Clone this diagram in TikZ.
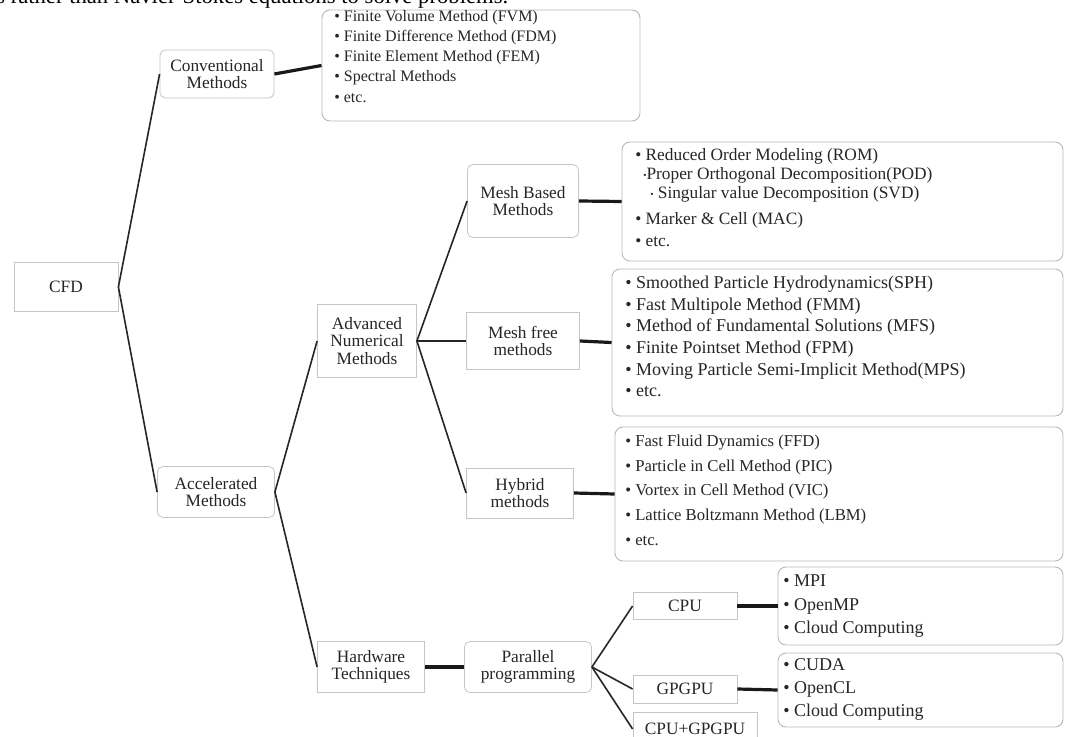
\documentclass[tikz,border=0pt]{standalone}
\usepackage{fontspec}
\setmainfont{Liberation Serif}
\usetikzlibrary{positioning,fit}
\newcommand{\pxu}{0.75pt}
\newcommand{\smallbul}{\raisebox{0.15ex}{\scriptsize\textbullet}}
\newcommand{\fsz}[1]{\fontsize{#1}{#1}\selectfont}

\tikzset{
  box/.style={draw=gray!45, line width=0.6pt, fill=white, align=center, inner sep=0pt,
    font=\fsz{13}, text=black!85},
  rbox/.style={box, rounded corners=4pt},
  listbox/.style={draw=gray!55, line width=0.7pt, rounded corners=6pt, inner sep=0pt},
  item/.style={anchor=west, inner sep=0pt, font=\fsz{13}, text=black!85,
    text height=1.6ex, text depth=0.45ex},
  link/.style={draw=black!85, line width=1.2pt},
  boldlink/.style={draw=black!90, line width=2.4pt},
}

\begin{document}
\begin{tikzpicture}[x=0.75pt,y=-0.75pt]
  \useasboundingbox (0,0) rectangle (1067,737);
  \fill[white] (0,0) rectangle (1067,737);
  \clip (0,0) rectangle (1067,737);

  % cut-off line of the page text
  \node[anchor=base west, inner sep=0pt, font=\fsz{17}] (pagetext) at (-4,4)
    {s rather than Navier-Stokes equations to solve problems.};

  % first level
  \node[box, minimum width=104*\pxu, minimum height=49*\pxu] (cfd) at (66,287) {CFD};
  \node[rbox, minimum width=114*\pxu, minimum height=48*\pxu] (conv) at (217,74) {Conventional\\Methods};
  \node[rbox, minimum width=117*\pxu, minimum height=51*\pxu] (accel) at (216,492) {Accelerated\\Methods};

  % second level
  \node[box, minimum width=99*\pxu, minimum height=73*\pxu] (adv) at (367,341) {Advanced\\Numerical\\Methods};
  \node[box, minimum width=107*\pxu, minimum height=51*\pxu] (hw) at (371,667) {Hardware\\Techniques};

  % third level
  \node[rbox, minimum width=111*\pxu, minimum height=73*\pxu] (mesh) at (523,201) {Mesh Based\\Methods};
  \node[box, minimum width=113*\pxu, minimum height=57*\pxu] (free) at (523,341) {Mesh free\\methods};
  \node[box, minimum width=107*\pxu, minimum height=50*\pxu] (hybrid) at (520,493) {Hybrid\\methods};
  \node[rbox, minimum width=127*\pxu, minimum height=51*\pxu] (par) at (528,667) {Parallel\\programming};
  \node[box, minimum width=104*\pxu, minimum height=27*\pxu] (cpu) at (685,606) {CPU};
  \node[box, minimum width=104*\pxu, minimum height=28*\pxu] (gpgpu) at (685,689) {GPGPU};
  \node[box, minimum width=124*\pxu, minimum height=34*\pxu] (both) at (695,729) {CPU+GPGPU};

  % list boxes
  \node[listbox, fit={(322,10) (640,121)}] (convlist) {};
  \node[listbox, fit={(622,142) (1063,261)}] (meshlist) {};
  \node[listbox, fit={(612,269) (1063,416)}] (freelist) {};
  \node[listbox, fit={(615,427) (1063,561)}] (hyblist) {};
  \node[listbox, fit={(778,567) (1063,645)}] (cpulist) {};
  \node[listbox, fit={(778,653) (1063,727)}] (gpulist) {};

  % list entries
  \foreach \y/\t [count=\i] in {18/{Finite Volume Method (FVM)}, 38/{Finite Difference Method (FDM)},
      58/{Finite Element Method (FEM)}, 78/{Spectral Methods}, 99/{etc.}}
    \node[item, font=\fsz{12}] (conv\i) at (334,\y) {\textbullet\ \t};
  \foreach \x/\y/\t [count=\i] in {635/157/{\textbullet\ Reduced Order Modeling (ROM)},
      643/176/{\smallbul Proper Orthogonal Decomposition(POD)},
      650/195/{\smallbul\ Singular value Decomposition (SVD)},
      635/221/{\textbullet\ Marker \& Cell (MAC)}, 635/243/{\textbullet\ etc.}}
    \node[item] (mesh\i) at (\x,\y) {\t};
  \foreach \y/\t [count=\i] in {285/{Smoothed Particle Hydrodynamics(SPH)}, 307/{Fast Multipole Method (FMM)},
      328/{Method of Fundamental Solutions (MFS)}, 350/{Finite Pointset Method (FPM)},
      372/{Moving Particle Semi-Implicit Method(MPS)}, 393/{etc.}}
    \node[item, font=\fsz{13.5}] (free\i) at (625,\y) {\textbullet\ \t};
  \foreach \y/\t [count=\i] in {443/{Fast Fluid Dynamics (FFD)}, 468/{Particle in Cell Method (PIC)},
      492/{Vortex in Cell Method (VIC)}, 517/{Lattice Boltzmann Method (LBM)}, 542/{etc.}}
    \node[item, font=\fsz{12.5}] (hyb\i) at (625,\y) {\textbullet\ \t};
  \foreach \y/\t [count=\i] in {583/MPI, 607/OpenMP, 630/{Cloud Computing}}
    \node[item, font=\fsz{13.5}] (cpu\i) at (783,\y) {\textbullet\ \t};
  \foreach \y/\t [count=\i] in {667/CUDA, 690/OpenCL, 713/{Cloud Computing}}
    \node[item, font=\fsz{13.5}] (gpu\i) at (783,\y) {\textbullet\ \t};

  % connectors
  \draw[link] (cfd.east) -- (conv.west);
  \draw[link] (cfd.east) -- (accel.west);
  \draw[link] (accel.east) -- (adv.west);
  \draw[link] (accel.east) -- (hw.west);
  \draw[link] (adv.east) -- (mesh.west);
  \draw[link] (adv.east) -- (free.west);
  \draw[link] (adv.east) -- (hybrid.west);
  \draw[link] (par.east) -- (cpu.west);
  \draw[link] (par.east) -- (gpgpu.west);
  \draw[link] (par.east) -- (both.west);
  \draw[boldlink] (conv.east) -- (convlist.west);
  \draw[boldlink] (mesh.east) -- (meshlist.west);
  \draw[boldlink] (free.east) -- (freelist.west);
  \draw[boldlink] (hybrid.east) -- (hyblist.west);
  \draw[boldlink] (hw.east) -- (par.west);
  \draw[boldlink] (cpu.east) -- (cpulist.west);
  \draw[boldlink] (gpgpu.east) -- (gpulist.west);
\end{tikzpicture}
\end{document}
